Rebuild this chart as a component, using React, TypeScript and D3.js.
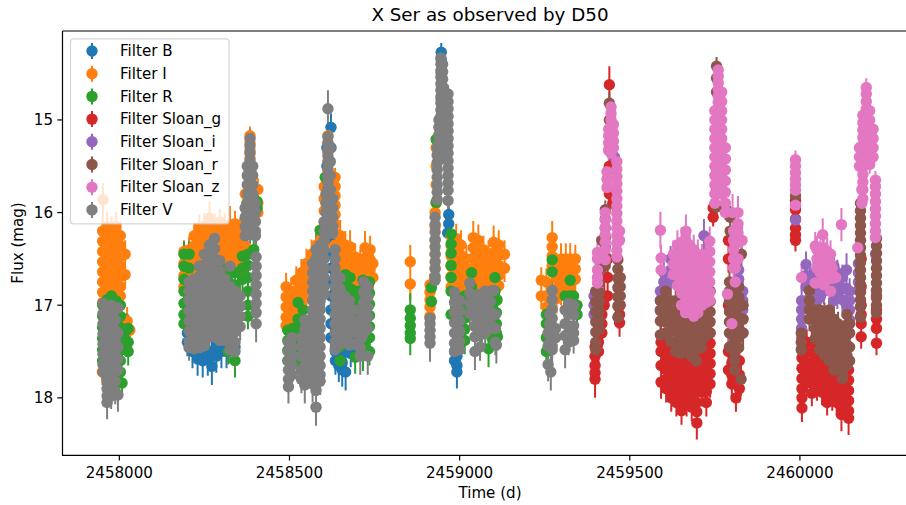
import React from "react";
import * as d3 from "d3";

// Each column: [days after JD0, error (mag), ...magnitudes observed around that date]
type Column = number[];
const JD0 = 2458000;

const filterB: Column[] = [
  [200,.15,17.3,17.4],[215,.18,17.4,17.5],[230,.18,17.45,17.58],[245,.18,17.5,17.6],[260,.18,17.5,17.58],[272,.2,17.5,17.66],[285,.18,17.45,17.55],[300,.18,17.4,17.5],[315,.18,17.4,17.5],[340,.15,17.45],
  [610,.12,15.3,15.5],[622,.15,15.08,15.3,16.3,16.45,16.6,16.75,16.9,17.05,17.2,17.35],[635,.15,17.4,17.5,17.6],[645,.18,17.45,17.55,17.65],[655,.18,17.5,17.62,17.7],[665,.2,17.5,17.72],[680,.15,17.4,17.52],
  [946,.1,14.27,14.35,14.5],[968,.12,16.02,16.12],[965,.12,16.22],[985,.15,17.5,17.6],[992,.18,17.55,17.65,17.72],
];
const filterI: Column[] = [
  [-48,.18,15.86],[-49,.16,16.2,16.31,16.42,16.53,16.64,16.75,16.86,16.97],[-36,.16,16.15,16.26,16.37,16.48,16.59,16.7,16.81,16.92],[-23,.16,16.2,16.31,16.42,16.53,16.64,16.75,16.86,16.97],[-10,.16,16.15,16.26,16.37,16.48,16.59,16.7,16.81,16.92],[3,.15,16.25,16.36,16.47,16.58,16.69,16.8,16.9],[-50,.14,17.72],[17,.15,16.45,16.67],[23,.15,17.17],[31,.12,17.27],
  [190,.12,16.42,16.55,16.68,16.8],[205,.14,16.4,16.51,16.62,16.73],[220,.14,16.25,16.36,16.47,16.58,16.7],[235,.14,16.16,16.27,16.38,16.49,16.6],[250,.14,16.15,16.26,16.37,16.48,16.6],[265,.18,16.06,16.1,16.21,16.32,16.43,16.55],[280,.14,16.15,16.26,16.37,16.48],[295,.14,16.1,16.21,16.32,16.43,16.55],[310,.14,16.15,16.26,16.37,16.48],[325,.2,16.13,16.24,16.35,16.46,16.57],[340,.14,16.12,16.23,16.34,16.45,16.56],[355,.14,16.2,16.31,16.42,16.53,16.64],[370,.14,16.25,16.36,16.47,16.58],
  [384,.1,15.17,15.25,15.33,15.41,15.49,15.57,15.65,15.72,15.85],[370,.12,15.8,15.95,16.1],[407,.12,15.75,15.9,16.0],
  [490,.15,16.8,16.91,17.02,17.13,17.22],[505,.15,16.85,16.96,17.07,17.18],[520,.15,16.73,16.84,16.95,17.06],[535,.15,16.65,16.76,16.87,16.98],[550,.16,16.55,16.66,16.77,16.88],[565,.16,16.45,16.56,16.67,16.78],[580,.16,16.35,16.46,16.57,16.68],[592,.16,16.3,16.41,16.52],
  [613,.1,15.17,15.25,15.35,15.45,15.55,15.65,15.75,15.85,16.0,16.1,16.2],[602,.1,15.72,15.85,15.98,16.1,16.25,16.35],[634,.1,15.62,15.72,15.82,15.92,16.02,16.12,16.22,16.35],
  [649,.17,16.25,16.36,16.47,16.58,16.69,16.8],[664,.15,16.35,16.46,16.57,16.68,16.8],[678,.18,16.37,16.48,16.59,16.7,16.82],[693,.15,16.48,16.59,16.7,16.8],[708,.15,16.55,16.66,16.77],[722,.18,16.38,16.49,16.6,16.71,16.82],[737,.15,16.4,16.51,16.62,16.73],[745,.15,16.55,16.7],
  [855,.18,16.53,16.77],[913,.12,16.78,16.86,16.94,17.02,17.12],[928,.1,16.0,16.15,16.3,16.45,16.6],[931,.1,15.3,15.5,15.7,15.9],
  [975,.15,16.25,16.36,16.47,16.58,16.69,16.8],[990,.16,16.28,16.39,16.5,16.61,16.72,16.83],[1004,.16,16.35,16.46,16.57,16.68,16.8],[1020,.15,16.5,16.61,16.72,16.83],[1040,.18,16.27,16.38,16.49,16.6,16.71,16.82],[1055,.17,16.3,16.41,16.52,16.63,16.74],[1070,.15,16.4,16.51,16.62,16.73,16.84],[1085,.15,16.45,16.56,16.67,16.78],[1100,.18,16.32,16.43,16.54,16.65,16.76,16.87],[1115,.16,16.35,16.46,16.57,16.68,16.79],[1132,.15,16.45,16.6],
  [1272,.18,16.27,16.37,16.47,16.57],[1240,.14,16.73,16.9],[1255,.15,16.75,16.9,17.02],[1285,.16,16.6,16.71,16.82,16.93],[1298,.17,16.5,16.61,16.72,16.83],[1312,.17,16.5,16.61,16.72,16.83],[1325,.17,16.5,16.61,16.72,16.83],[1340,.15,16.5,16.61,16.72],
];
const filterR: Column[] = [
  [-49,.14,17.0,17.12,17.24,17.36,17.48,17.6],[-36,.14,16.94,17.06,17.18,17.3,17.42,17.54,17.66,17.78],[-23,.14,16.9,17.02,17.14,17.26,17.38,17.5,17.62,17.74,17.84],[-10,.14,16.95,17.07,17.19,17.31,17.43,17.55],[3,.14,17.0,17.12,17.24,17.36,17.48,17.6,17.72],[8,.15,17.28,17.38,17.48,17.84],[20,.18,17.27,17.38],[26,.15,17.25,17.4,17.5],
  [190,.14,16.45,16.58,16.72,16.85,16.98,17.1,17.2],[205,.14,16.45,16.6,16.75],[300,.14,16.6,16.72],[320,.14,16.62,16.74,17.3,17.5],[340,.14,16.65,16.78],[362,.14,16.47,16.6,16.72],[378,.14,16.45,16.57,16.7,16.85,17.0,17.12],[395,.12,16.4],[385,.1,15.88],[405,.1,15.88,15.95],[375,.1,15.9],[340,.18,17.6],
  [495,.15,17.27,17.38,17.49,17.6],[510,.15,17.25,17.36,17.47,17.58],[525,.15,16.97,17.15,17.3,17.45,17.6],[540,.15,17.05,17.2],[560,.15,17.2,17.35,17.5],[605,.1,15.62],[590,.1,16.19],
  [649,.15,16.85,16.97,17.09,17.21,17.33,17.45,17.6],[664,.15,16.67,16.8,16.92],[678,.15,16.7,16.82,16.95,17.1],[690,.15,16.85,16.96,17.3,17.42],[693,.18,16.85,17.0,17.56],[705,.15,16.85,16.96,17.07,17.19,17.3,17.42],[716,.18,16.73,16.85,16.97,17.53],[722,.15,17.3,17.42],[735,.15,16.75,16.87,16.99,17.11,17.23,17.35,17.5],
  [855,.18,17.05,17.14,17.22,17.3,17.36],[917,.12,16.81,16.96],[946,.1,14.78],[931,.1,15.21,15.89],[975,.1,16.23,16.34,16.44,16.57,16.7,16.85,17.1],[990,.12,16.9,17.05],[1015,.15,16.9,17.02,17.14,17.26,17.38],[1035,.14,16.65,16.8],[1050,.15,16.9,17.05,17.2],[1065,.15,17.0,17.3],[1104,.15,16.7,16.85],[1095,.15,17.0,17.12,17.25,17.35],[1110,.15,16.94],[1090,.15,17.19],[1111,.15,17.34],[1085,.2,17.47],[1108,.15,16.95,17.08,17.2,17.3],
  [1272,.15,16.51,16.64],[1325,.15,16.73,16.9],[1310,.15,16.9],[1335,.15,16.9],[1255,.15,17.1,17.2,17.35,17.5],[1345,.12,17.0,17.1],
];
const sloanG: Column[] = [
  [1440,.2,14.62,15.3,15.5,15.8],[1398,.2,17.45,17.55,17.65,17.73,17.8],[1408,.15,17.1,17.2,17.3,17.4,17.5],[1418,.15,17.0,17.1,17.2,17.3],[1425,.15,16.9,17.0],[1470,.15,16.8,16.9,17.0,17.1,17.19],[1450,.12,15.3,15.5,15.9],[1435,.12,16.5,16.7,16.9],
  [1592,.18,17.4,17.5,17.65,17.83],[1607,.15,17.4,17.5,17.6,17.7,17.8,17.9],[1622,.15,17.45,17.56,17.67,17.78,17.89,18.0],[1637,.15,17.4,17.51,17.62,17.73,17.84,17.95,18.05],[1652,.15,17.45,17.56,17.67,17.78,17.89,18.0,18.14],[1667,.15,17.5,17.61,17.72,17.83,17.94,18.05],[1682,.15,17.55,17.66,17.77,17.88,17.99,18.1],[1697,.18,17.5,17.61,17.72,17.83,17.94,18.05,18.15,18.27],[1712,.15,17.5,17.61,17.72,17.83,17.94],[1725,.15,17.4,17.51,17.62,17.73,17.84,17.93,18.05],[1736,.15,17.3,17.41,17.52,17.63,17.74,17.85],[1745,.1,15.95,16.05],
  [1790,.15,16.3,16.5,17.0,17.5,17.7],[1800,.18,17.5,17.62,17.75,17.85],[1812,.15,17.6,17.7,17.85,18.0],[1822,.15,17.6,17.75,17.9],
  [1987,.12,15.87,15.97,16.07,16.17,16.24,16.3],
  [2006,.15,17.35,17.46,17.57,17.68,17.79,17.9,18.0,18.11],[2020,.14,17.4,17.51,17.62,17.73,17.84],[2035,.14,17.4,17.51,17.62,17.73,17.84,17.95],[2050,.14,17.45,17.56,17.67,17.78,17.89],[2065,.14,17.5,17.61,17.72,17.83,17.94],[2080,.14,17.55,17.66,17.77,17.88,17.99,18.05],[2095,.14,17.6,17.71,17.82,17.93,18.0],[2108,.14,17.6,17.71,17.82,17.93,18.05],[2122,.18,17.7,17.81,17.92,18.03,18.12,18.18],[2134,.15,17.7,17.81,17.92,18.03,18.1],[2143,.18,17.6,17.7,17.81,17.92,18.03,18.14,18.22],
  [2180,.13,16.5,16.8,17.0,17.1,17.2,17.34],[2225,.13,16.9,17.05,17.15,17.25,17.41],
];
const sloanI: Column[] = [
  [1395,.12,16.9,17.0,17.1],[1455,.1,15.4],[1410,.12,16.6],
  [1590,.14,16.85,16.95,17.05],[1600,.14,16.65,16.75,16.85,16.95],[1620,.14,16.5,16.62,16.75],[1640,.14,16.5,16.62,16.78],[1718,.18,16.25],[1820,.14,16.62,16.72,16.82,16.95],[1832,.14,16.85,16.95,17.05,17.15,17.3],[1805,.14,17.38],
  [1987,.1,16.08],
  [2005,.14,16.95,17.05,17.15,17.25],[2018,.14,16.56,16.68,16.8,16.95],[2035,.14,16.75,16.88],[2040,.14,16.65,16.77,16.89,17.0],[2050,.14,16.7,16.82,16.95],[2060,.14,16.55,16.67,16.79,16.91],[2070,.14,16.6,16.72,16.85],[2090,.14,16.6,16.72,16.85],[2100,.14,16.58,16.7,16.82,16.95],[2110,.14,16.65,16.77,16.9],[2125,.14,16.7,16.82,16.94],[2137,.18,16.62,16.82,17.0],[2146,.14,16.85,16.95,17.05,17.16],
  [2172,.14,16.55,16.65,16.75,16.84],[2222,.14,16.45],
];
const sloanR: Column[] = [
  [1440,.12,14.82,15.0],[1428,.1,15.97,16.07,16.17,16.27,16.37,16.47,16.57],[1418,.1,16.3,16.45,16.6],[1410,.12,16.76,16.86,16.96,17.06,17.16,17.26],[1400,.12,16.85,16.96,17.07,17.18,17.29,17.4,17.48],[1465,.12,16.51,16.61,16.71,16.81,16.91,17.01,17.13],[1472,.12,16.7,16.8,16.9,17.0],
  [1590,.14,16.95,17.06,17.17,17.32],[1605,.14,16.85,16.96,17.07,17.18,17.3],[1620,.14,16.95,17.06,17.17,17.28,17.39],[1635,.14,16.95,17.06,17.17,17.28,17.39,17.5],[1650,.14,17.0,17.11,17.22,17.33,17.44,17.52],[1665,.14,17.05,17.16,17.27,17.38,17.5],[1680,.14,17.1,17.21,17.32,17.43,17.55],[1695,.14,17.15,17.26,17.37,17.48,17.6],[1710,.14,17.05,17.16,17.27,17.38,17.46],[1725,.14,17.0,17.11,17.22,17.33],[1736,.14,16.85,16.96,17.07,17.18,17.3],
  [1755,.1,14.42,14.55,14.7,15.3,15.4,15.5,15.62,15.75,15.94],[1795,.12,16.05,16.2],[1793,.13,16.75,16.85,16.96,17.07,17.18,17.3,17.45],[1808,.13,16.85,16.96,17.07,17.18,17.29,17.4,17.51,17.6,17.7],[1820,.13,16.8,16.91,17.02,17.13,17.24,17.35,17.46],[1828,.14,16.45],[1833,.14,17.0,17.15,17.3],[1827,.18,17.8],
  [1987,.1,15.82],
  [2004,.13,17.3,17.4,17.48],[2028,.13,16.84,16.95,17.05,17.15],[2045,.13,17.05,17.15,17.25,17.36],[2058,.13,17.05,17.16,17.27,17.38,17.48],[2072,.13,17.1,17.21,17.32,17.43,17.54],[2086,.13,17.05,17.16,17.27,17.38,17.5,17.6],[2100,.13,17.15,17.26,17.37,17.48,17.6,17.7],[2112,.13,17.2,17.31,17.42,17.53,17.64],[2125,.13,17.3,17.41,17.52,17.63,17.74,17.79],[2138,.13,17.1,17.21,17.32,17.43,17.54,17.65],[2146,.13,17.2,17.3,17.45,17.6],
  [2178,.12,15.9,15.98,16.06,16.14,16.22,16.3,16.38,16.46,16.54,16.62,16.7,16.78,16.86,16.94,17.02,17.13],[2225,.12,16.28,16.36,16.44,16.52,16.6,16.68,16.76,16.84,16.92,17.0,17.08],
];
const sloanZ: Column[] = [
  [1445,.1,14.86,14.93,15.0,15.07,15.14,15.21,15.28,15.36],[1452,.1,15.05,15.14,15.23,15.3],[1438,.1,15.1,15.17,15.25,15.33],[1433,.1,15.56,15.64,15.73],[1462,.1,15.45,15.53,15.61,15.69,15.77,15.85,15.93,16.01,16.09,16.17,16.25,16.33,16.41,16.48],[1470,.1,16.2,16.3],[1428,.1,16.0,16.08,16.16,16.24,16.32,16.4,16.51],[1405,.17,16.43,16.5,16.62,16.7,16.76],
  [1590,.2,16.19],[1592,.14,16.49,16.62],[1665,.18,16.2],[1628,.15,16.45,16.56,16.67],[1640,.16,16.35,16.46,16.57,16.68,16.79],[1652,.16,16.32,16.43,16.54,16.65,16.76,16.87,17.0],[1664,.16,16.3,16.41,16.52,16.63,16.74,16.85,16.96,17.08],[1676,.16,16.35,16.46,16.57,16.68,16.79,16.9,17.01,17.08],[1688,.16,16.4,16.51,16.62,16.73,16.84,16.95,17.06,17.12],[1700,.16,16.45,16.56,16.67,16.78,16.89,17.0,17.08],[1712,.16,16.5,16.61,16.72,16.83,16.94,17.0],[1724,.16,16.45,16.56,16.67,16.78,16.89,16.97],[1735,.16,16.31,16.42,16.53,16.64,16.75,16.86,16.95],
  [1760,.08,14.46,14.53,14.6,14.67,14.74,14.81,14.88,14.95,15.02,15.09,15.16,15.23,15.3,15.37,15.44,15.51,15.58,15.65,15.72,15.78],[1750,.08,14.9,15.0,15.1,15.2,15.3,15.4,15.5,15.6,15.7,15.8,15.9],[1770,.08,14.7,14.8,14.9,15.0,15.1,15.2,15.3,15.4,15.5,15.6,15.7,15.8],[1781,.08,15.3,15.42,15.54,15.66,15.78,15.9,16.0],
  [1802,.2,16.0],[1805,.14,16.2,16.3,16.4,16.5,16.6],[1818,.18,16.0,16.12,16.22,16.32,16.5],[1830,.15,16.3],[1810,.14,16.3,16.6,16.75],[1787,.14,16.88],[1800,.12,17.2],
  [1987,.1,15.43,15.5,15.57,15.64,15.7,15.76,15.92],
  [2067,.18,16.24],[2122,.18,16.13],[2045,.15,16.36,16.76],[2050,.15,16.4,16.5,16.6],[2060,.15,16.45,16.55,16.65,16.75],[2070,.15,16.38,16.48,16.58,16.68,16.78],[2080,.15,16.42,16.52,16.62,16.72],[2090,.15,16.45,16.55,16.65,16.85],[2095,.15,16.6,16.71],[2105,.15,16.7],[2005,.12,16.7],
  [2195,.1,14.65,14.72,14.8,14.88,14.96,15.04,15.12,15.2,15.28,15.36,15.44],[2185,.1,14.95,15.03,15.11,15.19,15.27,15.35,15.43,15.51,15.59,15.67,15.75,15.85],[2205,.1,14.9,15.0,15.08,15.16,15.24,15.32,15.4,15.48],[2175,.1,15.3,15.4,15.5],[2182,.1,15.75,15.9],[2170,.12,16.38],[2215,.1,15.1,15.2,15.3,15.4],[2222,.1,15.65,15.72,15.8,15.88,15.96,16.04,16.12,16.2,16.27],
];
const filterV: Column[] = [
  [-48,.14,16.98,17.09,17.2,17.31,17.42,17.53,17.64,17.72],[-36,.18,17.04,17.15,17.26,17.37,17.48,17.59,17.7,17.8,17.9,17.98,18.05],[-24,.14,17.0,17.11,17.22,17.33,17.44,17.55,17.66,17.77,17.88,17.98],[-12,.14,17.05,17.16,17.27,17.38,17.49,17.6,17.71,17.82,17.93],[-4,.18,17.03,17.3,17.45,17.58,17.7,17.97],
  [205,.14,16.75,16.85,16.95,17.06,17.17,17.28,17.39,17.46],[220,.14,16.72,16.83,16.94,17.05,17.16,17.27,17.38,17.47],[235,.14,16.58,16.69,16.8,16.91,17.02,17.13,17.24,17.35,17.46],[250,.14,16.45,16.56,16.67,16.78,16.89,17.0,17.11,17.22,17.33,17.44],[265,.14,16.35,16.46,16.57,16.68,16.79,16.9,17.01,17.12,17.23,17.34],[280,.14,16.28,16.39,16.5,16.61,16.72,16.83,16.94,17.05,17.16,17.27,17.34],[295,.14,16.52,16.63,16.74,16.85,16.96,17.07,17.18,17.29,17.38],[310,.14,16.72,16.83,16.94,17.05,17.16,17.27,17.38],[325,.15,16.58,16.8,16.91,17.02,17.13,17.24,17.35,17.48],[340,.18,16.85,16.96,17.07,17.18,17.29,17.4,17.5],[355,.15,16.9,17.01,17.12,17.23],
  [402,.2,16.48,16.58,16.68,16.78,16.88,16.98,17.08,17.2],[384,.1,15.2,15.28,15.36,15.44,15.52,15.6,15.68,15.76,15.84,15.92,16.0,16.08,16.16,16.24],[392,.1,15.5,15.6,15.7,15.8,15.9,16.0,16.1,16.2],[376,.1,15.5,15.6,15.7,15.8,15.9,16.0,16.1,16.2],[400,.1,15.9,16.0,16.1,16.2,16.25],[370,.1,15.95,16.05,16.15,16.25],
  [497,.18,17.4,17.5,17.6,17.7,17.8,17.88],[507,.15,17.35,17.45,17.55,17.65,17.75],[535,.15,17.35,17.45,17.55,17.7,17.8],[545,.2,17.16,17.26,17.36,17.46,17.56,17.66,17.76,17.86],[556,.15,17.2,17.3,17.4,17.5,17.6,17.7],
  [568,.2,16.55,16.65,16.75,16.85,16.95,17.05,17.15,17.25,17.35,17.45,17.55,17.65,17.75,17.85],[578,.2,16.4,16.5,16.6,16.7,16.8,16.9,17.0,17.1,17.2,17.3,17.4,17.5,17.6,17.7,17.8,17.92,18.1],[590,.15,16.35,16.45,16.55,16.65,16.75,16.85,16.95,17.05,17.15,17.25,17.35,17.45,17.55,17.65,17.75,17.82],[602,.14,16.1,16.2,16.3,16.4,16.5,16.6,16.7,16.8,16.88],
  [613,.2,14.88,15.18,15.25,15.32,15.39,15.46,15.53,15.6,15.67,15.74,15.81,15.88,15.95,16.02,16.09,16.16,16.23],[607,.1,15.8,15.9,16.0,16.1,16.2],[620,.1,15.3,15.45,15.6,15.75,15.9,16.0,16.1,16.2],[627,.1,15.85,15.95,16.05,16.15,16.22],
  [634,.14,16.4,16.5,16.6,16.7,16.8,16.9,17.0,17.1,17.2,17.3,17.4,17.48],[648,.14,16.7,16.82,16.94,17.06,17.18,17.3,17.42],[662,.14,16.9,17.02,17.14,17.26,17.38],[676,.14,16.95,17.07,17.19,17.31,17.43],[690,.14,17.05,17.17,17.29,17.42],[708,.2,17.2,17.35,17.46,17.55],[712,.14,17.05,17.15,17.25,17.35],[718,.14,16.75,16.86,16.97,17.08,17.2,17.3],[730,.2,16.8,16.91,17.02,17.13,17.25,17.55],
  [913,.2,17.14,17.2,17.27,17.34,17.41],[928,.12,16.05,16.13,16.21,16.29,16.37,16.45,16.53,16.61,16.69,16.73],[934,.1,15.3,15.38,15.46,15.54,15.62,15.7,15.78,15.86],[939,.1,15.0,15.08,15.16,15.24,15.32,15.4],[945,.1,14.33,14.4,14.47,14.54,14.61,14.68,14.75,14.82,14.89,14.96,15.03,15.1,15.17,15.24,15.32,15.42],[950,.1,14.4,14.48,14.56,14.64,14.72,14.8,14.88,14.96,15.04,15.12,15.2,15.3],[958,.1,14.85,14.93,15.01,15.09,15.2,15.3,15.4],[966,.1,14.72,14.8,14.88,14.96,15.04,15.12,15.2,15.28,15.36,15.44,15.52,15.6,15.68,15.76,15.87],
  [985,.14,16.86,16.97,17.08,17.19,17.3,17.41,17.5],[1000,.14,16.95,17.06,17.17,17.28,17.39,17.48],[1030,.14,16.76,16.87,16.98,17.09],[1045,.2,16.9,17.01,17.12,17.23,17.34,17.5],[1060,.15,16.88,16.99,17.1,17.21,17.32,17.45],[1075,.14,16.85,16.96,17.07,17.18,17.3],[1090,.14,16.85,16.96,17.07,17.2],[1100,.14,16.84,17.1,17.25],[1108,.2,17.43],[1105,.14,17.1,17.25,17.4],
  [1265,.14,17.1,17.2,17.3,17.4],[1272,.14,16.84,16.94,17.04,17.14,17.24,17.34,17.44,17.48],[1260,.18,17.3,17.44,17.64],[1268,.2,17.72],[1282,.14,17.25,17.35],[1320,.14,16.98,17.1,17.22,17.3,17.4],[1335,.14,17.0,17.1,17.22,17.3,17.38],[1310,.2,17.05,17.2,17.33,17.48],
];

const seriesNames = ["Filter B", "Filter I", "Filter R", "Filter Sloan_g", "Filter Sloan_i", "Filter Sloan_r", "Filter Sloan_z", "Filter V"];
const seriesColumns = [filterB, filterI, filterR, sloanG, sloanI, sloanR, sloanZ, filterV];
const xTicks = [2458000, 2458500, 2459000, 2459500, 2460000];
const yTicks = [15, 16, 17, 18];

const W = 906, H = 505;
const x = d3.scaleLinear().domain([2457833, 2460347]).range([62.5, 918]);
const y = d3.scaleLinear().domain([14.04, 18.62]).range([31, 455.3]);
const colors = d3.schemeCategory10;
const FONT = "'DejaVu Sans', sans-serif";
const R = 5.7;
const FS = 15.1;

const flat = seriesColumns.map((cols) =>
  cols.flatMap(([t, err, ...mags]) => mags.map((m) => ({ t: JD0 + t, m, err })))
);

export default function App() {
  const errPath = d3.line<[number, number]>();
  return (
    <svg width={W} height={H} style={{ position: "absolute", left: 0, top: 0, display: "block" }} fontFamily={FONT}>
      <rect width={W} height={H} fill="#fff" />
      <g>
        {flat.map((pts, i) => (
          <path key={i} stroke={colors[i]} strokeWidth={2} fill="none"
            d={pts.map((p) => errPath([[x(p.t), y(p.m - p.err)], [x(p.t), y(p.m + p.err)]])).join("")} />
        ))}
        {flat.map((pts, i) => (
          <g key={i} fill={colors[i]}>
            {pts.map((p, j) => <circle key={j} cx={x(p.t)} cy={y(p.m)} r={R} />)}
          </g>
        ))}
      </g>
      <g stroke="#000" strokeWidth={1.2} fill="none">
        <path d={`M${x.range()[0]},${y.range()[0]}V${y.range()[1]}H${x.range()[1]}M${x.range()[0]},${y.range()[0]}H${x.range()[1]}`} />
        {xTicks.map((t) => <line key={t} x1={x(t)} x2={x(t)} y1={455.3} y2={460.5} />)}
        {yTicks.map((t) => <line key={t} y1={y(t)} y2={y(t)} x1={62.5} x2={57.3} />)}
      </g>
      <g fontSize={FS} fill="#000">
        {xTicks.map((t) => <text key={t} x={x(t)} y={478} textAnchor="middle">{t}</text>)}
        {yTicks.map((t) => <text key={t} x={53} y={y(t) + 5.4} textAnchor="end">{t}</text>)}
        <text x={490} y={498} textAnchor="middle">Time (d)</text>
        <text transform="translate(23,243) rotate(-90)" textAnchor="middle">Flux (mag)</text>
      </g>
      <text x={490} y={20.5} textAnchor="middle" fontSize={18.3} fill="#000">X Ser as observed by D50</text>
      <rect x={70.5} y={38.8} width={158.5} height={185} rx={3} fill="#fff" fillOpacity={0.8} stroke="#ccc" strokeOpacity={0.8} strokeWidth={1.2} />
      {seriesNames.map((name, i) => {
        const ly = 51 + i * 22.7;
        return (
          <g key={name}>
            <line x1={92} x2={92} y1={ly - 8} y2={ly + 8} stroke={colors[i]} strokeWidth={2} />
            <circle cx={92} cy={ly} r={R} fill={colors[i]} />
            <text x={120} y={ly + 5.2} fontSize={FS} fill="#000">{name}</text>
          </g>
        );
      })}
    </svg>
  );
}
